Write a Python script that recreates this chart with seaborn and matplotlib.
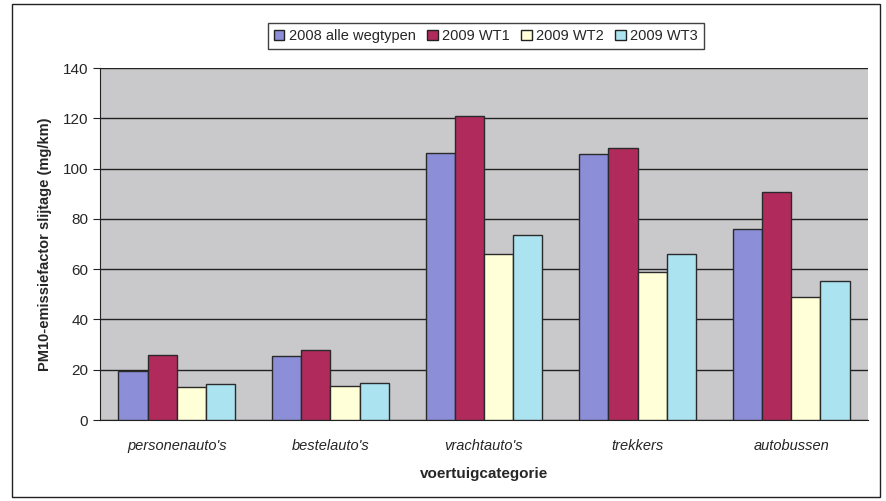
import matplotlib
matplotlib.use("Agg")
import matplotlib.pyplot as plt
import seaborn as sns
import pandas as pd

categories = ["personenauto's", "bestelauto's", "vrachtauto's", "trekkers", "autobussen"]
series = ["2008 alle wegtypen", "2009 WT1", "2009 WT2", "2009 WT3"]
v2008 = [19.5, 25.5, 106, 105.8, 76]
wt1 = [26, 27.8, 121, 108.2, 90.7]
wt2 = [13, 13.5, 66, 58.9, 49]
wt3 = [14.2, 14.7, 73.6, 66, 55.3]
colors = ["#8C8ED8", "#B02A5C", "#FFFFD8", "#ACE3F0"]

rows = []
for s, vals in zip(series, [v2008, wt1, wt2, wt3]):
    for c, v in zip(categories, vals):
        rows.append({"cat": c, "series": s, "val": v})
df = pd.DataFrame(rows)

sns.set_style("white")
plt.rcParams["font.family"] = ["Liberation Sans", "DejaVu Sans"]

fig = plt.figure(figsize=(8.87, 5.01), dpi=100)
ax = fig.add_axes([100/887, 1 - 420/501, 768/887, 352/501])
ax.set_facecolor("#C9C9CB")

sns.barplot(data=df, x="cat", y="val", hue="series", palette=colors, saturation=1,
            order=categories, hue_order=series, width=0.76, gap=0,
            edgecolor="#2a2a2a", linewidth=1.0, ax=ax, legend=True, zorder=3)

ax.set_ylim(0, 140)
ax.set_xlim(-0.5, 4.5)
ax.set_yticks(range(0, 141, 20))
ax.yaxis.grid(True, color="#222222", linewidth=1.0, zorder=0)
ax.set_axisbelow(True)
for sp in ["top", "right"]:
    ax.spines[sp].set_visible(False)
ax.spines["left"].set_color("#222222")
ax.spines["bottom"].set_color("#222222")
ax.tick_params(axis="y", left=True, length=5, labelsize=11, color="#222222")
ax.tick_params(axis="x", bottom=False, labelsize=10.5, pad=10)
for t in ax.get_xticklabels():
    t.set_fontstyle("italic")
ax.set_xlabel("voertuigcategorie", fontsize=11, fontweight="bold", labelpad=10)
ax.set_ylabel("PM10-emissiefactor slijtage (mg/km)", fontsize=10.5, fontweight="bold", labelpad=8)

leg = ax.legend(loc="center", bbox_to_anchor=(486/887, 1 - 36/501), bbox_transform=fig.transFigure,
                ncol=4, frameon=True, fontsize=10.5, handlelength=0.7, handleheight=0.7,
                handletextpad=0.3, columnspacing=0.8, borderpad=0.4, fancybox=False)
leg.get_frame().set_edgecolor("#111111")
leg.get_frame().set_linewidth(1.0)
for h in leg.legend_handles:
    h.set_edgecolor("#222222")
    h.set_linewidth(1.0)

# outer border
fig.patches.append(plt.Rectangle((12/887, 4/501), 868/887, 493/501, transform=fig.transFigure,
                                 fill=False, edgecolor="#222222", linewidth=1.0))

fig.savefig("out.png", dpi=100)
